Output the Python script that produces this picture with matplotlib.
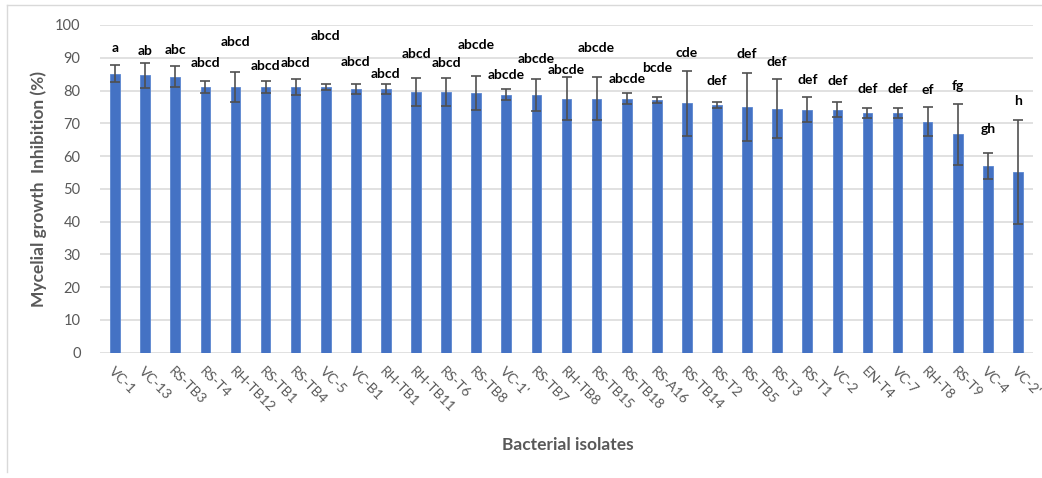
import numpy as np
import matplotlib
matplotlib.use('Agg')
import matplotlib.pyplot as plt
from matplotlib.lines import Line2D

# Data
isolates = ['VC-1', 'VC-13', 'RS-TB3', 'RS-T4', 'RH-TB12', 'RS-TB1', 'RS-TB4', 'VC-5',
            'VC-B1', 'RH-TB1', 'RH-TB11', 'RS-T6', 'RS-TB8', "VC-1'", 'RS-TB7', 'RH-TB8',
            'RS-TB15', 'RS-TB18', 'RS-A16', 'RS-TB14', 'RS-T2', 'RS-TB5', 'RS-T3', 'RS-T1',
            'VC-2', 'EN-T4', 'VC-7', 'RH-T8', 'RS-T9', 'VC-4', "VC-2'"]
inhibition = [85.1, 84.6, 84.2, 81.1, 81.1, 81.1, 81.1, 81.1,
              80.5, 80.5, 79.5, 79.5, 79.2, 78.7, 78.6, 77.5,
              77.5, 77.5, 77.0, 76.1, 75.6, 75.0, 74.5, 74.2,
              74.2, 73.1, 73.1, 70.5, 66.6, 56.9, 55.2]
std_err = [2.6, 3.9, 3.2, 1.9, 4.6, 1.9, 2.4, 0.9,
           1.6, 1.6, 4.3, 4.3, 5.1, 1.7, 4.9, 6.5,
           6.5, 1.6, 0.9, 9.9, 0.9, 10.5, 9.0, 3.8,
           2.4, 1.5, 1.5, 4.5, 9.3, 4.0, 15.8]
letters = ['a', 'ab', 'abc', 'abcd', 'abcd', 'abcd', 'abcd', 'abcd',
           'abcd', 'abcd', 'abcd', 'abcd', 'abcde', 'abcde', 'abcde', 'abcde',
           'abcde', 'abcde', 'bcde', 'cde', 'def', 'def', 'def', 'def',
           'def', 'def', 'def', 'ef', 'fg', 'gh', 'h']

# heights where the letter labels sit (as placed in the original)
letter_y = [93.1, 92.2, 92.5, 88.3, 94.8, 87.6, 88.3, 96.7,
            88.7, 85.1, 91.0, 88.3, 93.8, 84.6, 89.5, 86.4,
            93.1, 83.4, 86.9, 91.5, 82.9, 91.2, 88.7, 83.1,
            83.0, 80.5, 80.5, 80.3, 81.3, 68.4, 76.9]

plt.rcParams['font.family'] = ['Lato', 'DejaVu Sans']
grey = '#595959'

fig = plt.figure(figsize=(10.42, 4.78), dpi=100)
ax = fig.add_axes([100/1042, 1 - 352.7/478, 933/1042, (352.7 - 25)/478])

x = np.arange(len(isolates))
ax.bar(x, inhibition, width=0.32, color='#4472C4', edgecolor='#5B86D0',
       linewidth=0.6, zorder=2)
ax.errorbar(x, inhibition, yerr=std_err, fmt='none', ecolor='#505050',
            elinewidth=1.2, capsize=3.5, capthick=1.2, zorder=3)

for xi, lab, ly in zip(x, letters, letter_y):
    ax.text(xi, ly, lab, ha='center', va='center', fontsize=10,
            fontweight='bold', color='black', zorder=4)

ax.set_xlim(-0.5, len(isolates) - 0.5)
ax.set_ylim(0, 100)
ax.set_yticks(np.arange(0, 101, 10))
ax.yaxis.grid(True, color='#D9D9D9', linewidth=1.1, zorder=0)
ax.set_axisbelow(True)
for s in ax.spines.values():
    s.set_visible(False)
ax.tick_params(axis='both', length=0, colors=grey)
ax.tick_params(axis='y', pad=14, labelsize=10.5)
ax.set_xticks(x)
ax.set_xticklabels(isolates, rotation=-45, ha='left', rotation_mode='anchor',
                   fontsize=10, color=grey)
ax.tick_params(axis='x', pad=9)

ax.set_ylabel('Mycelial growth  Inhibition (%)', fontsize=12.5,
              fontweight='bold', color=grey, labelpad=6)
fig.text(568/1042, 1 - 445/478, 'Bacterial isolates', ha='center', va='center',
         fontsize=12.5, fontweight='bold', color=grey)

# chart frame (left and top edges visible in the original crop)
fig.add_artist(Line2D([7/1042, 7/1042], [1 - 5/478, 1 - 472/478],
                      transform=fig.transFigure, color='#D9D9D9', linewidth=1))
fig.add_artist(Line2D([7/1042, 1.0], [1 - 5/478, 1 - 5/478],
                      transform=fig.transFigure, color='#D9D9D9', linewidth=1))

fig.savefig('out.png', dpi=100)
